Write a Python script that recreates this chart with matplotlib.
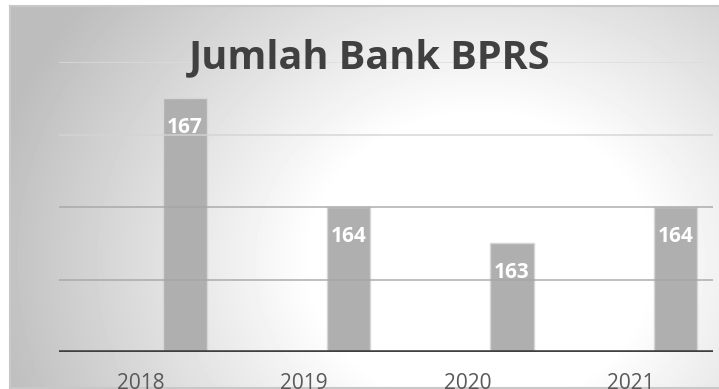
import matplotlib.pyplot as plt
import numpy as np

plt.rcParams['font.family'] = ['Open Sans', 'DejaVu Sans']

years = ['2018', '2019', '2020', '2021']
jumlah = [167, 164, 163, 164]
grid_vals = [162, 164, 166, 168]
grid_cols = ['#a6a6a6', '#a6a6a6', '#d4d4d4', '#dcdcdc']

W, H = 719, 389
fig = plt.figure(figsize=(W / 100, H / 100), dpi=100)
fig.patch.set_facecolor('white')

# chart area background with radial gradient
bg = fig.add_axes([10 / W, 1 - 388 / H, (W - 10) / W, 382 / H])
yy, xx = np.mgrid[6:388, 10:W]
r = np.hypot((xx - 480) / 1.0, (yy - 260) / 0.85)
shade = 1 - 0.26 * np.clip((r - 170) / 330, 0, 1)
bg.imshow(shade, cmap='gray', vmin=0, vmax=1, aspect='auto',
          extent=[0, 1, 0, 1], interpolation='bilinear')
bg.set_xlim(0, 1)
bg.set_ylim(0, 1)
bg.set_xticks([])
bg.set_yticks([])
bg.spines['right'].set_visible(False)
for side in ['left', 'top', 'bottom']:
    bg.spines[side].set_color('#c8c8c8')
    bg.spines[side].set_linewidth(1.5)

ax = fig.add_axes([59 / W, 1 - 352 / H, (713 - 59) / W, (352 - 62) / H])
ax.patch.set_alpha(0)
x = np.arange(len(years))
offset = 0.27
bars = ax.bar(x + offset, jumlah, width=0.265, bottom=0,
              color='#afafaf', edgecolor='#d6d6d6', linewidth=1, zorder=2)
for gv, gc in zip(grid_vals, grid_cols):
    ax.axhline(gv, color=gc, lw=1.2, alpha=0.85, zorder=3)
ax.axhline(160, color='#404040', lw=2.6, zorder=4)

ax.set_ylim(160, 168)
ax.set_xlim(-0.5, 3.5)
ax.set_yticks([])
ax.set_xticks(x)
ax.set_xticklabels(years, fontsize=15, color='#595959')
ax.tick_params(axis='x', length=0, pad=15)
for s in ax.spines.values():
    s.set_visible(False)

for xi, v in zip(x, jumlah):
    ax.annotate(str(v), (xi + offset, v), xytext=(0, -21),
                textcoords='offset points', ha='center', va='center',
                fontsize=15, fontweight='bold', color='white', zorder=5)

fig.text(370 / W, 1 - 58 / H, 'Jumlah Bank BPRS', ha='center', va='center',
         fontsize=28.5, fontweight='bold', color='#404040', zorder=10)

fig.savefig('out.png', dpi=100)
